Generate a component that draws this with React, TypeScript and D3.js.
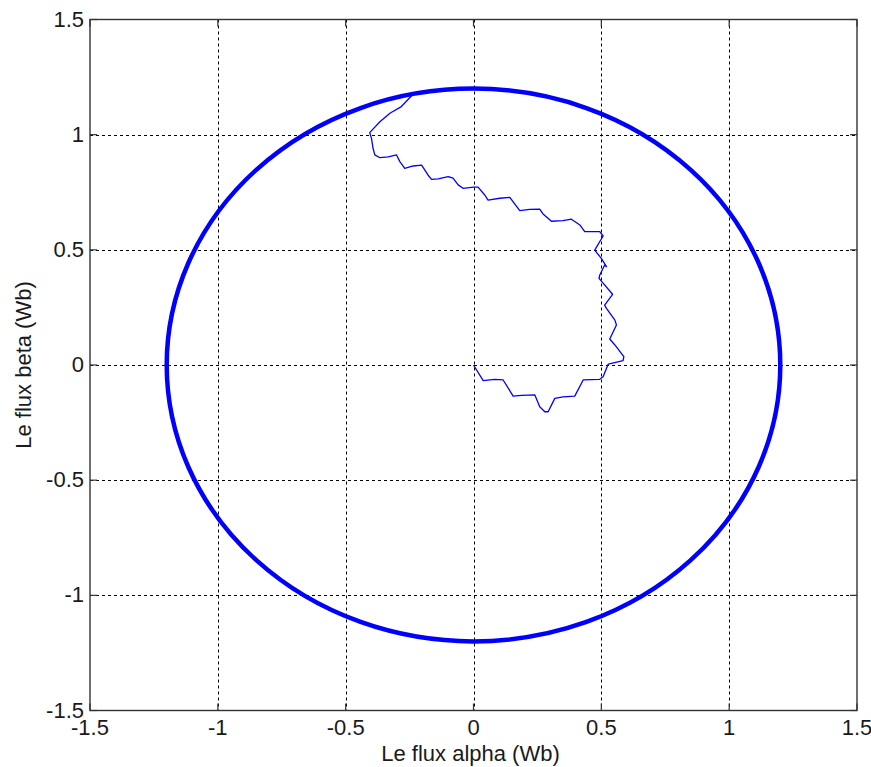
import { useEffect, useRef } from 'react';
import * as d3 from 'd3';

// flux trajectory (alpha, beta), from start at origin
const alphaFlux = [
  0, 0.038, 0.083, 0.116, 0.155, 0.188, 0.24, 0.259, 0.279, 0.292, 0.318, 0.35, 0.396, 0.429,
  0.494, 0.507, 0.527, 0.585, 0.588, 0.553, 0.533, 0.559, 0.553, 0.52, 0.513, 0.544, 0.491,
  0.494, 0.513, 0.52, 0.5, 0.474, 0.507, 0.494, 0.435, 0.416, 0.383, 0.35, 0.305, 0.272, 0.259,
  0.22, 0.181, 0.142, 0.103, 0.057, 0.044, 0.018, 0, -0.041, -0.06, -0.08, -0.099, -0.138,
  -0.164, -0.178, -0.203, -0.236, -0.269, -0.288, -0.301, -0.334, -0.366, -0.386, -0.393,
  -0.399, -0.406, -0.366, -0.327, -0.282, -0.242, -0.236,
];
const betaFlux = [
  0, -0.068, -0.062, -0.065, -0.135, -0.132, -0.13, -0.181, -0.203, -0.203, -0.145, -0.138,
  -0.135, -0.065, -0.062, -0.051, 0.004, 0.019, 0.036, 0.087, 0.113, 0.174, 0.195, 0.246, 0.26,
  0.307, 0.376, 0.391, 0.434, 0.427, 0.463, 0.499, 0.56, 0.579, 0.579, 0.608, 0.633, 0.627,
  0.624, 0.656, 0.677, 0.676, 0.67, 0.728, 0.724, 0.716, 0.738, 0.772, 0.772, 0.767, 0.782,
  0.811, 0.818, 0.808, 0.806, 0.825, 0.868, 0.864, 0.854, 0.883, 0.912, 0.904, 0.9, 0.912,
  0.941, 0.984, 1.009, 1.056, 1.093, 1.122, 1.169, 1.182,
];

// steady-state flux circle radius (Wb)
const fluxRadius = 1.2;

const xTicks = [-1.5, -1, -0.5, 0, 0.5, 1, 1.5];
const yTicks = [-1.5, -1, -0.5, 0, 0.5, 1, 1.5];

const xLabel = 'Le flux alpha (Wb)';
const yLabel = 'Le flux beta (Wb)';

const App = () => {
  const svgRef = useRef<SVGSVGElement>(null);

  useEffect(() => {
    const W = 871;
    const H = 767;
    const left = 90;
    const right = 857;
    const top = 19.5;
    const bottom = 710.5;
    const font = 'Arial, "Liberation Sans", sans-serif';
    const fontSize = '22px';
    const textColor = '#1a1a1a';

    const svg = d3.select(svgRef.current);
    svg.selectAll('*').remove();
    svg.attr('width', W).attr('height', H);

    svg.append('rect').attr('width', W).attr('height', H).attr('fill', '#fff');

    const x = d3.scaleLinear().domain([-1.5, 1.5]).range([left, right]);
    const y = d3.scaleLinear().domain([-1.5, 1.5]).range([bottom, top]);

    // grid (dotted)
    const grid = svg.append('g')
      .attr('stroke', '#000')
      .attr('stroke-width', 1)
      .attr('stroke-dasharray', '3,3');
    grid.selectAll('.vx')
      .data(xTicks.slice(1, -1))
      .enter()
      .append('line')
      .attr('x1', d => Math.round(x(d)) + 0.5)
      .attr('x2', d => Math.round(x(d)) + 0.5)
      .attr('y1', top)
      .attr('y2', bottom);
    grid.selectAll('.hy')
      .data(yTicks.slice(1, -1))
      .enter()
      .append('line')
      .attr('y1', d => Math.round(y(d)) + 0.5)
      .attr('y2', d => Math.round(y(d)) + 0.5)
      .attr('x1', left)
      .attr('x2', right);

    // flux circle
    svg.append('ellipse')
      .attr('cx', x(0))
      .attr('cy', y(0))
      .attr('rx', x(fluxRadius) - x(0))
      .attr('ry', y(0) - y(fluxRadius))
      .attr('fill', 'none')
      .attr('stroke', '#0000ff')
      .attr('stroke-width', 4.5);

    // trajectory
    const pts = alphaFlux.map((a, i) => [a, betaFlux[i]] as [number, number]);
    const line = d3.line<[number, number]>()
      .x(d => x(d[0]))
      .y(d => y(d[1]));
    svg.append('path')
      .attr('d', line(pts))
      .attr('fill', 'none')
      .attr('stroke', '#0000ff')
      .attr('stroke-width', 1.3)
      .attr('stroke-linejoin', 'round');

    // axes box
    svg.append('rect')
      .attr('x', left)
      .attr('y', top)
      .attr('width', right - left)
      .attr('height', bottom - top)
      .attr('fill', 'none')
      .attr('stroke', '#333')
      .attr('stroke-width', 1.4);

    // inward ticks on all four sides
    const tickLen = 7;
    const ticks = svg.append('g').attr('stroke', '#333').attr('stroke-width', 1.2);
    xTicks.forEach(t => {
      ticks.append('line').attr('x1', x(t)).attr('x2', x(t)).attr('y1', bottom).attr('y2', bottom - tickLen);
      ticks.append('line').attr('x1', x(t)).attr('x2', x(t)).attr('y1', top).attr('y2', top + tickLen);
    });
    yTicks.forEach(t => {
      ticks.append('line').attr('y1', y(t)).attr('y2', y(t)).attr('x1', left).attr('x2', left + tickLen);
      ticks.append('line').attr('y1', y(t)).attr('y2', y(t)).attr('x1', right).attr('x2', right - tickLen);
    });

    // tick labels (plain hyphen minus, like the original)
    svg.selectAll('.xt')
      .data(xTicks)
      .enter()
      .append('text')
      .attr('x', d => x(d))
      .attr('y', bottom + 24)
      .attr('text-anchor', 'middle')
      .style('font-family', font)
      .style('font-size', fontSize)
      .attr('fill', textColor)
      .text(d => String(d));

    svg.selectAll('.yt')
      .data(yTicks)
      .enter()
      .append('text')
      .attr('x', left - 6)
      .attr('y', d => y(d))
      .attr('dy', '0.32em')
      .attr('text-anchor', 'end')
      .style('font-family', font)
      .style('font-size', fontSize)
      .attr('fill', textColor)
      .text(d => String(d));

    // axis labels
    svg.append('text')
      .attr('x', x(0) - 3)
      .attr('y', 761)
      .attr('text-anchor', 'middle')
      .style('font-family', font)
      .style('font-size', fontSize)
      .attr('fill', textColor)
      .text(xLabel);

    svg.append('text')
      .attr('transform', `translate(31,${y(0)}) rotate(-90)`)
      .attr('text-anchor', 'middle')
      .style('font-family', font)
      .style('font-size', fontSize)
      .attr('fill', textColor)
      .text(yLabel);
  }, []);

  return (
    <svg
      ref={svgRef}
      style={{ position: 'absolute', left: 0, top: 0, display: 'block' }}
    ></svg>
  );
};

export default App;
